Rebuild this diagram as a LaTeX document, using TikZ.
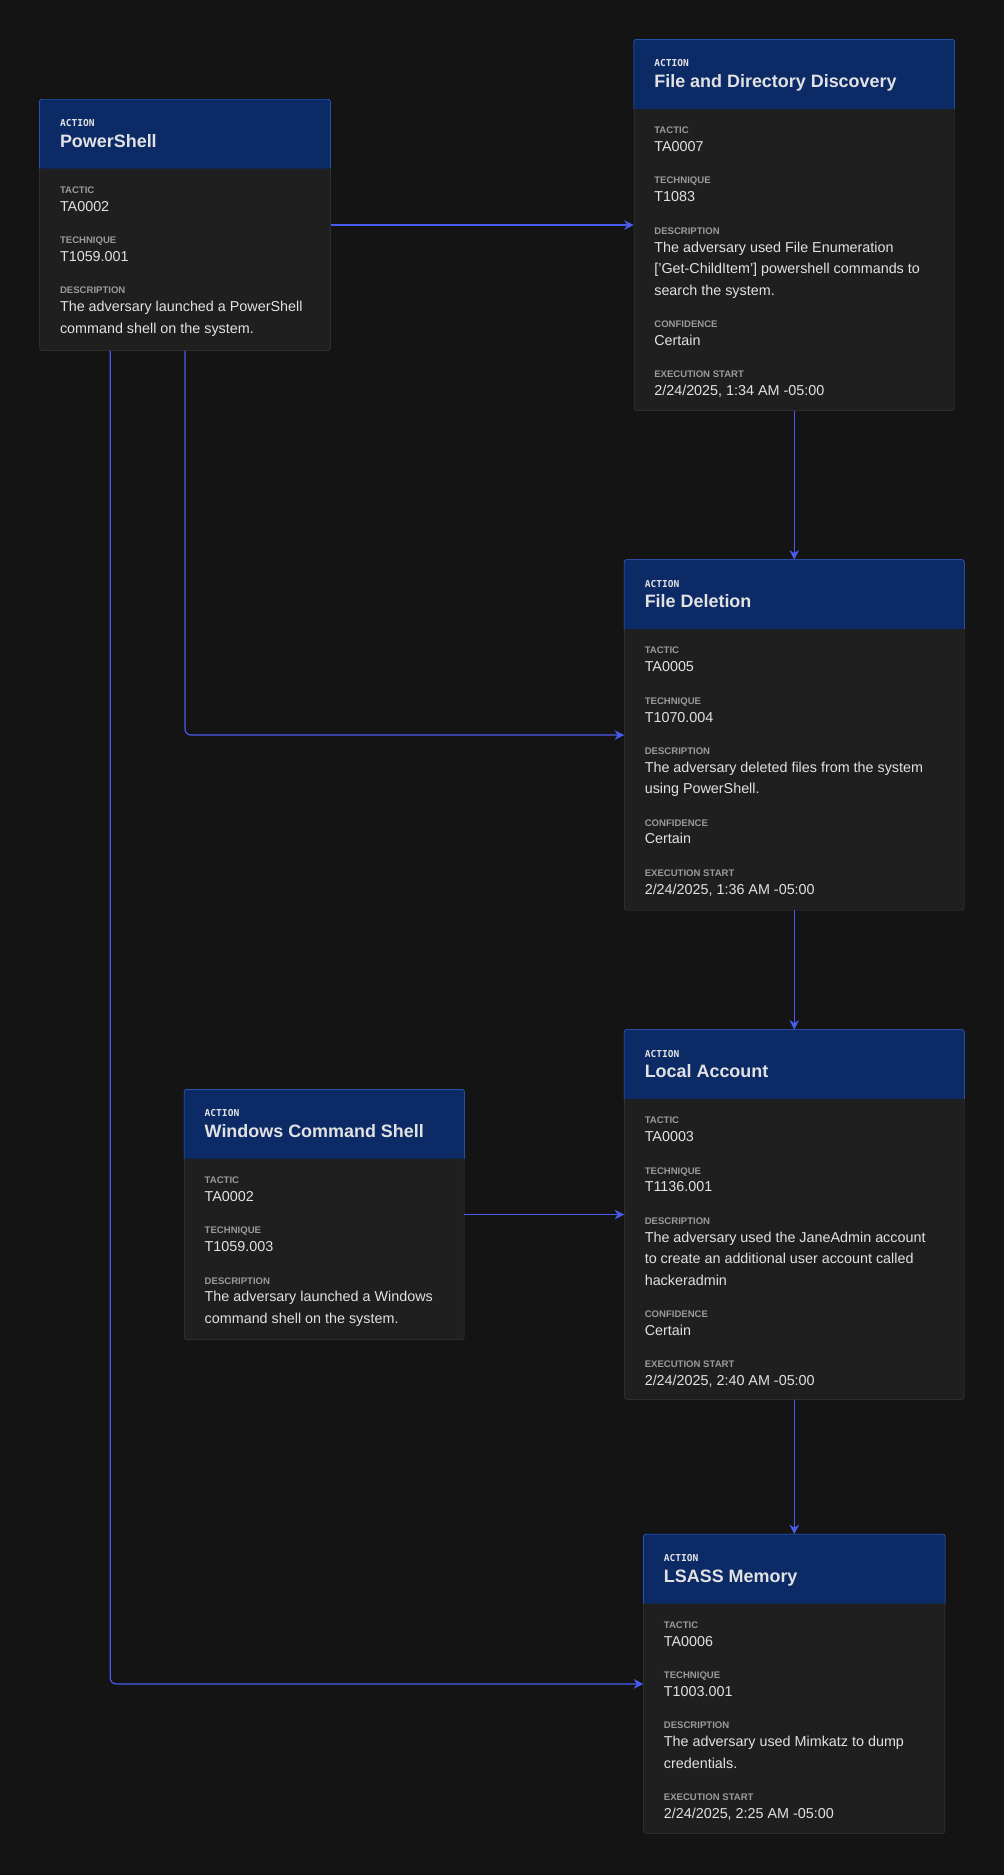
\documentclass[tikz,border=0pt]{standalone}
\usepackage{fontspec}
\setmainfont{Liberation Sans}
\newfontfamily\monof{DejaVu Sans Mono}
\usetikzlibrary{positioning,calc,arrows.meta}
\definecolor{bgc}{HTML}{141414}
\definecolor{cardc}{HTML}{1F1F1F}
\definecolor{edgec}{HTML}{3A3A3A}
\definecolor{headc}{HTML}{0B2A66}
\definecolor{headedge}{HTML}{3366DD}
\definecolor{linkc}{HTML}{4A5CF0}
\definecolor{lblc}{HTML}{9A9A9A}
\definecolor{txtc}{HTML}{E2E2E2}
\newcommand{\lblf}{\fontsize{8}{10}\selectfont\bfseries\color{lblc}}
\newcommand{\fld}[2]{{\lblf #1}\\[-3pt]#2}
% one card: name, x, y, width, height, title, fields
\newcommand{\card}[7]{%
  \node[card, minimum width=#4pt, minimum height=#5pt] (#1) at (#2,#3) {};
  \fill[headc, rounded corners=2pt] (#1.north west) rectangle ($(#1.north east)+(0,-58pt)$);
  \draw[headedge, rounded corners=2pt] ($(#1.north west)+(0,-58pt)$) -- (#1.north west) -- (#1.north east) -- ($(#1.north east)+(0,-58pt)$);
  \node[anchor=base west, inner sep=0pt, text=txtc, font=\monof\fontsize{8}{10}\selectfont\bfseries] (#1-kind) at ($(#1.north west)+(17pt,-23pt)$) {ACTION};
  \node[anchor=base west, inner sep=0pt, text=txtc, font=\fontsize{15}{18}\selectfont\bfseries] (#1-title) at ($(#1.north west)+(17pt,-40pt)$) {#6};
  \node[anchor=north west, inner sep=0pt, text=txtc, align=left, font=\fontsize{12}{18}\selectfont] (#1-body) at ($(#1.north west)+(17pt,-73pt)$) {#7};
}
\begin{document}
\begin{tikzpicture}[x=1pt,y=-1pt,
  card/.style={draw=edgec, fill=cardc, rounded corners=2pt, anchor=north west, inner sep=0pt},
  link/.style={linkc, line width=1pt, rounded corners=5pt, -{Stealth[length=8pt,width=8pt]}}]
\fill[bgc] (0,0) rectangle (840,1568);
\useasboundingbox (0,0) rectangle (840,1568);

% actions
\card{ps}{33}{83}{243}{210}{PowerShell}{\fld{TACTIC}{TA0002}\\[9pt]\fld{TECHNIQUE}{T1059.001}\\[9pt]\fld{DESCRIPTION}{The adversary launched a PowerShell\\command shell on the system.}}
\card{fdd}{530}{33}{268}{310}{File and Directory Discovery}{\fld{TACTIC}{TA0007}\\[9pt]\fld{TECHNIQUE}{T1083}\\[9pt]\fld{DESCRIPTION}{The adversary used File Enumeration\\\relax['Get-ChildItem'] powershell commands to\\search the system.}\\[9pt]\fld{CONFIDENCE}{Certain}\\[9pt]\fld{EXECUTION START}{2/24/2025, 1:34 AM -05:00}}
\card{del}{522}{468}{284}{293}{File Deletion}{\fld{TACTIC}{TA0005}\\[9pt]\fld{TECHNIQUE}{T1070.004}\\[9pt]\fld{DESCRIPTION}{The adversary deleted files from the system\\using PowerShell.}\\[9pt]\fld{CONFIDENCE}{Certain}\\[9pt]\fld{EXECUTION START}{2/24/2025, 1:36 AM -05:00}}
\card{acct}{522}{861}{284}{309}{Local Account}{\fld{TACTIC}{TA0003}\\[9pt]\fld{TECHNIQUE}{T1136.001}\\[9pt]\fld{DESCRIPTION}{The adversary used the JaneAdmin account\\to create an additional user account called\\hackeradmin}\\[9pt]\fld{CONFIDENCE}{Certain}\\[9pt]\fld{EXECUTION START}{2/24/2025, 2:40 AM -05:00}}
\card{wcs}{154}{911}{234}{209}{Windows Command Shell}{\fld{TACTIC}{TA0002}\\[9pt]\fld{TECHNIQUE}{T1059.003}\\[9pt]\fld{DESCRIPTION}{The adversary launched a Windows\\command shell on the system.}}
\card{lsass}{538}{1283}{252}{250}{LSASS Memory}{\fld{TACTIC}{TA0006}\\[9pt]\fld{TECHNIQUE}{T1003.001}\\[9pt]\fld{DESCRIPTION}{The adversary used Mimkatz to dump\\credentials.}\\[9pt]\fld{EXECUTION START}{2/24/2025, 2:25 AM -05:00}}

% links
\draw[link] (ps.east) -- (ps.east -| fdd.west);
\draw[link] (fdd.south) -- (del.north);
\draw[link] (del.south) -- (acct.north);
\draw[link] (acct.south) -- (acct.south |- lsass.north);
\draw[link] (wcs.east) -- (acct.west);
\draw[link] (ps.south) |- (del.west);
\coordinate (psleft) at ($(ps.south west)!0.243!(ps.south east)$);
\draw[link] (psleft) |- (lsass.west);
\end{tikzpicture}
\end{document}
